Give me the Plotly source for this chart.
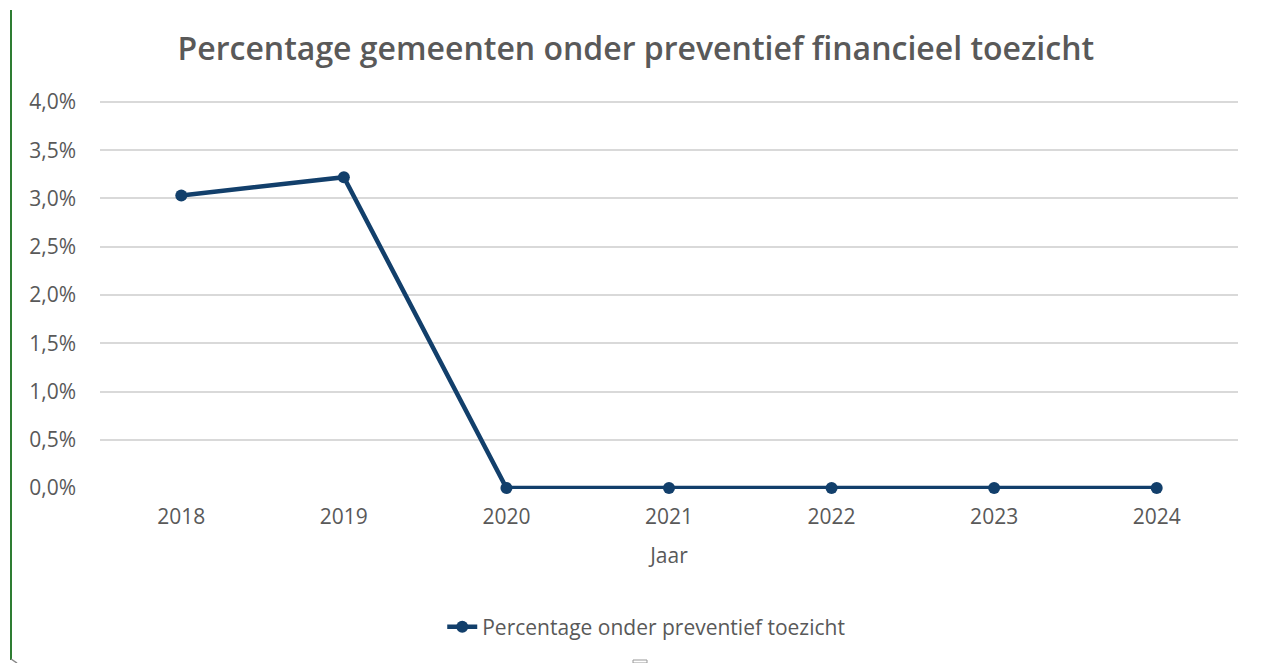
import plotly.graph_objects as go

years = ["2018", "2019", "2020", "2021", "2022", "2023", "2024"]
percentages = [0.0303, 0.0322, 0.0, 0.0, 0.0, 0.0, 0.0]
series_name = "Percentage onder preventief toezicht"
title_text = "Percentage gemeenten onder preventief financieel toezicht"

FONT = "Open Sans, Noto Sans, sans-serif"
GRAY = "#595959"
BLUE = "#123f6b"

# page body has an 8px default margin; plot area at screen x 100..1238, y 99..489
PX0, PW, PY0, PH = 100, 1138, 489, 390


def px(x):
    return (x - PX0) / PW


def py(y):
    return (PY0 - y) / PH


fig = go.Figure()
fig.add_trace(go.Scatter(
    x=years, y=percentages, mode="lines+markers", name=series_name,
    line=dict(color=BLUE, width=4.5),
    marker=dict(color=BLUE, size=12),
    cliponaxis=False,
))

fig.update_layout(
    width=1257, height=655,
    paper_bgcolor="white", plot_bgcolor="white",
    separators=",.",
    margin=dict(l=92, r=27, t=91, b=174),
    title=dict(text=title_text, x=0.4995, xanchor="center", y=0.937, yanchor="middle",
               font=dict(family=FONT, size=32, color=GRAY, weight=600)),
    font=dict(family=FONT, color=GRAY, size=21),
    showlegend=True,
    legend=dict(orientation="h", x=0.48, xanchor="center", y=py(627), yanchor="middle",
                font=dict(family=FONT, size=21, color=GRAY)),
    xaxis=dict(type="category", range=[-0.5, 6.5], showgrid=False, showline=False,
               zeroline=False, ticks="", tickfont=dict(size=21, color=GRAY),
               ticklabelstandoff=13,
               title=dict(text="Jaar", font=dict(size=21, color=GRAY), standoff=19)),
    yaxis=dict(range=[-0.0001, 0.0403],
               tickvals=[0, 0.005, 0.01, 0.015, 0.02, 0.025, 0.03, 0.035, 0.04],
               tickformat=".1%", showgrid=True,
               gridcolor="#d9d9d9", gridwidth=1.5, zeroline=False, showline=False,
               ticks="", tickfont=dict(size=21, color=GRAY), ticklabelstandoff=23),
)

# left green border line and frame handles
fig.add_shape(type="line", xref="paper", yref="paper", x0=px(11), x1=px(11),
              y0=py(660), y1=py(10), line=dict(color="#2e7d32", width=2))
fig.add_shape(type="line", xref="paper", yref="paper", x0=px(11), x1=px(17),
              y0=py(659), y1=py(663), line=dict(color="#888888", width=1.5))
fig.add_shape(type="rect", xref="paper", yref="paper", x0=px(1261), x1=px(1265),
              y0=py(339), y1=py(331), line=dict(color="#999999", width=1))
fig.add_shape(type="rect", xref="paper", yref="paper", x0=px(633), x1=px(647),
              y0=py(663), y1=py(660), line=dict(color="#999999", width=1))

fig.write_html("out.html")
